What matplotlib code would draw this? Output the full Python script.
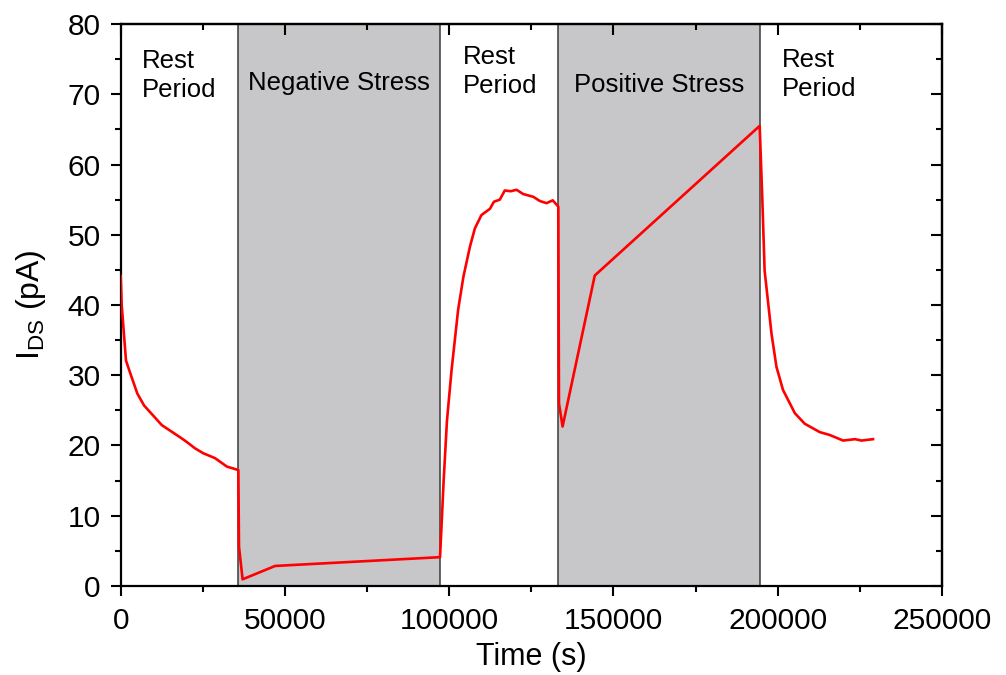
import matplotlib
matplotlib.use("Agg")
import matplotlib.pyplot as plt
from matplotlib.ticker import MultipleLocator

plt.rcParams['font.family'] = ['Liberation Sans', 'DejaVu Sans']
plt.rcParams['mathtext.default'] = 'regular'

# drain current trace, time in seconds, current in pA
time_s = [0, 300, 1600, 2600, 5050, 7100, 12500, 18600, 20100, 22600, 25100,
          28700, 32300, 35800, 36000, 37100, 47000, 97200, 98300, 99300,
          100700, 102700, 104300, 106300, 107800, 109800, 112400, 113600,
          115400, 116900, 118700, 120500, 122500, 125600, 127600, 129600,
          131500, 133200, 133400, 134500, 144300, 194500, 195300, 196000,
          198100, 199600, 201600, 205200, 208200, 212800, 215800, 219900,
          223500, 225500, 229000]
ids_pA = [44.1, 40.0, 32.1, 30.7, 27.4, 25.7, 22.9, 21.0, 20.5, 19.6, 18.9,
          18.2, 17.0, 16.5, 5.6, 0.95, 2.85, 4.1, 15.0, 23.5,
          30.7, 39.3, 44.0, 48.3, 50.9, 52.8, 53.7, 54.7,
          55.0, 56.3, 56.2, 56.4, 55.8, 55.4, 54.8, 54.5,
          54.9, 54.0, 26.0, 22.7, 44.2, 65.5, 55.0, 44.9,
          35.9, 31.2, 27.9, 24.6, 23.1, 21.9, 21.5, 20.7,
          20.9, 20.7, 20.9]

# stress windows (start, end) and period labels
stress_windows = [(35800, 97200), (133200, 194500)]
stress_labels = ["Negative Stress", "Positive Stress"]
rest_label_x = [6300, 104200, 201300]
rest_label_y = [72.7, 73.2, 72.8]

fig = plt.figure(figsize=(10.06, 6.75), dpi=100)
ax = fig.add_axes([0.12, 0.1319, 0.8164, 0.8325])

for (t0, t1), lab, yl in zip(stress_windows, stress_labels, [71.6, 71.3]):
    ax.axvspan(t0, t1, facecolor='#c7c6c9', edgecolor='#3a3a3a',
               linewidth=1.1, zorder=0)
    ax.text((t0 + t1) / 2, yl, lab, ha='center', va='center', fontsize=18.5)

for xr, yr in zip(rest_label_x, rest_label_y):
    ax.text(xr, yr, "Rest\nPeriod", ha='left', va='center', fontsize=18.5,
            linespacing=1.25)

ax.plot(time_s, ids_pA, color='#ff0000', linewidth=1.9, zorder=3)

ax.set_xlim(0, 250000)
ax.set_ylim(0, 80)
ax.xaxis.set_major_locator(MultipleLocator(50000))
ax.xaxis.set_minor_locator(MultipleLocator(25000))
ax.yaxis.set_major_locator(MultipleLocator(10))
ax.yaxis.set_minor_locator(MultipleLocator(5))

for sp in ax.spines.values():
    sp.set_linewidth(1.6)

ax.tick_params(which='both', direction='out', width=1.5, labelsize=21.5,
               top=False, right=False)
ax.tick_params(which='major', length=7.5)
ax.tick_params(which='minor', length=4)
ax.tick_params(axis='x', pad=8)
ax.tick_params(axis='y', pad=7)

# inward ticks on the top and right frame
top = ax.secondary_xaxis('top')
top.xaxis.set_major_locator(MultipleLocator(50000))
top.xaxis.set_minor_locator(MultipleLocator(25000))
top.tick_params(which='both', direction='in', width=1.5, labeltop=False)
top.tick_params(which='major', length=8)
top.tick_params(which='minor', length=4.5)
right = ax.secondary_yaxis('right')
right.yaxis.set_major_locator(MultipleLocator(10))
right.yaxis.set_minor_locator(MultipleLocator(5))
right.tick_params(which='both', direction='in', width=1.5, labelright=False)
right.tick_params(which='major', length=8)
right.tick_params(which='minor', length=4.5)
for sec in (top, right):
    for sp in sec.spines.values():
        sp.set_linewidth(1.6)

ax.set_xlabel("Time (s)", fontsize=22, labelpad=5)
ax.set_ylabel("I$_{DS}$ (pA)", fontsize=23, labelpad=14)

fig.savefig("out.png", dpi=100)
